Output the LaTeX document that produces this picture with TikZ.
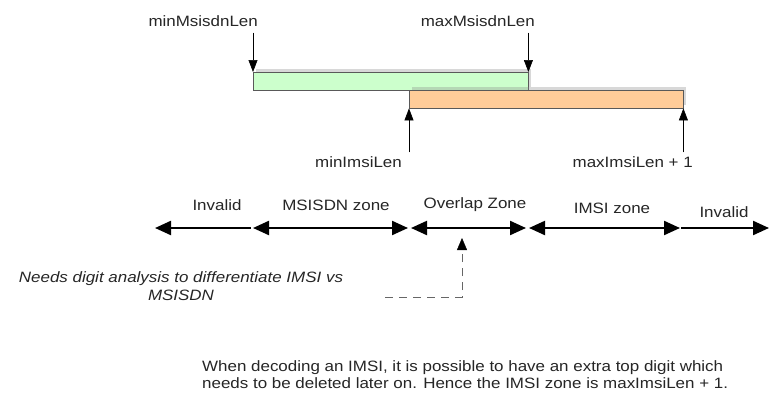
\documentclass[tikz,border=0pt]{standalone}
\usepackage{fontspec}
\setmainfont{Liberation Sans}[FakeStretch=1.13]
\usetikzlibrary{arrows.meta}
\usetikzlibrary{positioning}
\usetikzlibrary{shadows}
\definecolor{msisdngreen}{HTML}{CCFFCC}
\definecolor{imsiorange}{HTML}{FFCC99}
\tikzset{>=Triangle}

\begin{document}
\begin{tikzpicture}[
        x=1pt,y=-1pt,
        every node/.style={font=\fontsize{15}{17.5}\selectfont,text=black!85,inner sep=1pt},
        bar/.style={draw=black!65,anchor=north west,minimum height=18pt,inner sep=0pt,
                    drop shadow={opacity=0.3,shadow xshift=3pt,shadow yshift=3pt}},
        pointer/.style={semithick,-{Triangle[length=12pt,width=9pt]}},
        zone/.style={line width=2.2pt,arrows={Triangle[length=16pt,width=14pt]-Triangle[length=16pt,width=14pt]}},
        halfzone/.style={line width=2.2pt},
        note/.style={draw=black!60,dashed,dash pattern=on 8pt off 6pt,-{Triangle[length=12pt,width=10pt,color=black]}}
    ]
    \useasboundingbox[fill=white] (0,0) rectangle (769,399);

    % length ranges
    \node[bar,fill=msisdngreen,minimum width=275pt] (msisdn) at (253,72) {};
    \node[bar,fill=imsiorange,minimum width=274pt] (imsi) at (409,90) {};

    \node[anchor=east] (minMsisdn) at (259,21) {minMsisdnLen};
    \node[anchor=east] (maxMsisdn) at (536,21) {maxMsisdnLen};
    \node[anchor=east] (minImsi) at (403,162) {minImsiLen};
    \node[anchor=east] (maxImsi) at (694,162) {maxImsiLen + 1};

    \draw[pointer] ([yshift=-5pt]minMsisdn.south -| msisdn.north west) -- (msisdn.north west);
    \draw[pointer] ([yshift=-5pt]maxMsisdn.south -| msisdn.north east) -- (msisdn.north east);
    \draw[pointer] ([yshift=3pt]minImsi.north -| imsi.south west) -- (imsi.south west);
    \draw[pointer] ([yshift=3pt]maxImsi.north -| imsi.south east) -- (imsi.south east);

    % zones
    \coordinate (z0) at (155,228);
    \coordinate (z1) at (251,228);
    \coordinate (z2) at (253,228);
    \coordinate (z3) at (408,228);
    \coordinate (z4) at (411,228);
    \coordinate (z5) at (526,228);
    \coordinate (z6) at (529,228);
    \coordinate (z7) at (680,228);
    \coordinate (z8) at (681,228);
    \coordinate (z9) at (769,228);

    \node (invalidLow) at (217,205) {Invalid};
    \node (msisdnZone) at (336,205) {MSISDN zone};
    \node (overlapZone) at (475,205) {Overlap Zone};
    \node (imsiZone) at (612,208) {IMSI zone};
    \node (invalidHigh) at (724,212) {Invalid};

    \draw[halfzone,arrows={Triangle[length=16pt,width=14pt]-}] (z0) -- (z1);
    \draw[zone] (z2) -- (z3);
    \draw[zone] (z4) -- (z5);
    \draw[zone] (z6) -- (z7);
    \draw[halfzone,arrows={-Triangle[length=16pt,width=14pt]}] (z8) -- (z9);

    % overlap remark
    \coordinate (overlapTip) at (462,238);
    \coordinate (noteBend) at (462,297);
    \coordinate (noteEnd) at (385,297);
    \node[align=center,font=\itshape\fontsize{15}{18}\selectfont] (digitNote) at (181,286)
        {Needs digit analysis to differentiate IMSI vs\\MSISDN};
    \draw[note] (noteEnd) -- (noteBend) -- (overlapTip);

    \node[align=left,anchor=north west] (decodeNote) at (201,359)
        {When decoding an IMSI, it is possible to have an extra top digit which\\
         needs to be deleted later on. Hence the IMSI zone is maxImsiLen + 1.};
\end{tikzpicture}
\end{document}
